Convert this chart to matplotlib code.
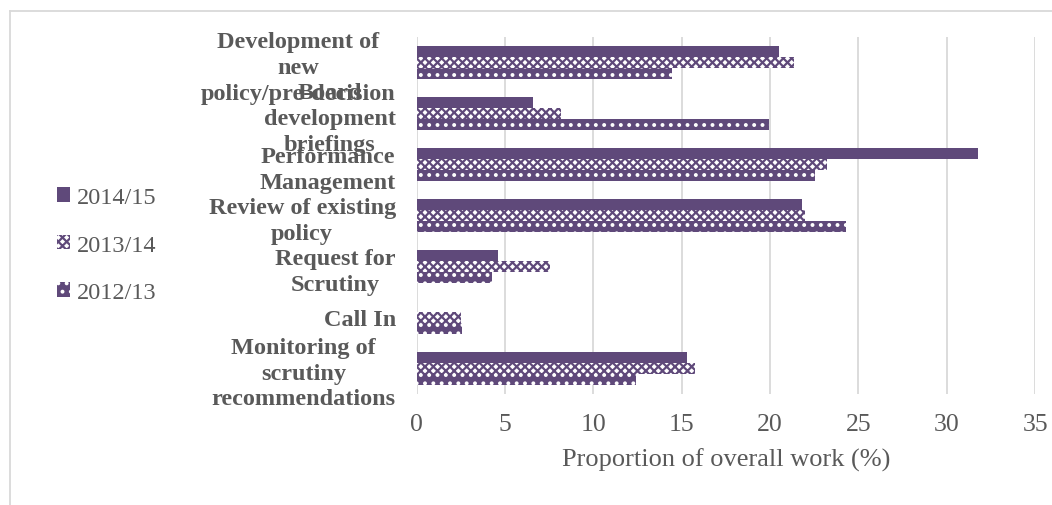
import matplotlib.pyplot as plt
import matplotlib.transforms as mtransforms
import numpy as np

plt.rcParams['font.family'] = ['Liberation Serif', 'DejaVu Serif']
plt.rcParams['hatch.linewidth'] = 1.6

categories = ['Development of\nnew\npolicy/pre-decision',
              'Board\ndevelopment\nbriefings',
              'Performance\nManagement',
              'Review of existing\npolicy',
              'Request for\nScrutiny',
              'Call In',
              'Monitoring of\nscrutiny\nrecommendations']
years = ['2014/15', '2013/14', '2012/13']
v_2014_15 = [20.5, 6.6, 31.75, 21.8, 4.6, 0.0, 15.3]
v_2013_14 = [21.35, 8.15, 23.2, 21.95, 7.55, 2.5, 15.75]
v_2012_13 = [14.45, 19.95, 22.55, 24.3, 4.25, 2.55, 12.4]

purple = '#5f497a'
grey = '#595959'

fig = plt.figure(figsize=(10.52, 5.06), dpi=100)
ax = fig.add_axes([0.396, 0.22, 0.588, 0.705])

y = np.arange(len(categories))
w = 0.217
ax.barh(y - w, v_2014_15, w, color=purple, linewidth=0, label=years[0])
ax.barh(y, v_2013_14, w, color='white', edgecolor=purple, hatch='xxxx',
        linewidth=0, label=years[1])
ax.barh(y + w, v_2012_13, w, color=purple, edgecolor='white', hatch='..',
        linewidth=0, label=years[2])

ax.set_xlim(0, 35)
ax.set_xticks(range(0, 36, 5))
ax.set_ylim(len(categories) - 0.5, -0.5)
ax.set_yticks(y)
ax.set_yticklabels(categories, fontsize=17.5, fontweight='bold', color=grey,
                   multialignment='center', linespacing=1.3)
# labels sit a little below the category centre
shift = mtransforms.ScaledTranslation(0, -3 / 72, fig.dpi_scale_trans)
for lab in ax.get_yticklabels():
    lab.set_transform(lab.get_transform() + shift)
ax.tick_params(axis='both', length=0, colors=grey)
ax.tick_params(axis='x', labelsize=18.5, pad=14)
ax.tick_params(axis='y', pad=15)
ax.set_xlabel('Proportion of overall work (%)', fontsize=19, color=grey,
              labelpad=9)

ax.grid(axis='x', color='#d9d9d9', linewidth=1.3)
ax.set_axisbelow(True)
for s in ax.spines.values():
    s.set_visible(False)

fig.legend(loc='upper left', bbox_to_anchor=(0.045, 0.648), frameon=False,
           fontsize=17.5, labelcolor=grey, handlelength=0.55, handleheight=0.55,
           handletextpad=0.25, labelspacing=1.1, borderaxespad=0)

# chart frame
fig.add_artist(plt.Line2D([0.0095, 1.0], [0.976, 0.976], color='#d9d9d9', lw=1.3))
fig.add_artist(plt.Line2D([0.0095, 0.0095], [0.0, 0.976], color='#d9d9d9', lw=1.3))

fig.savefig('out.png', dpi=100)
